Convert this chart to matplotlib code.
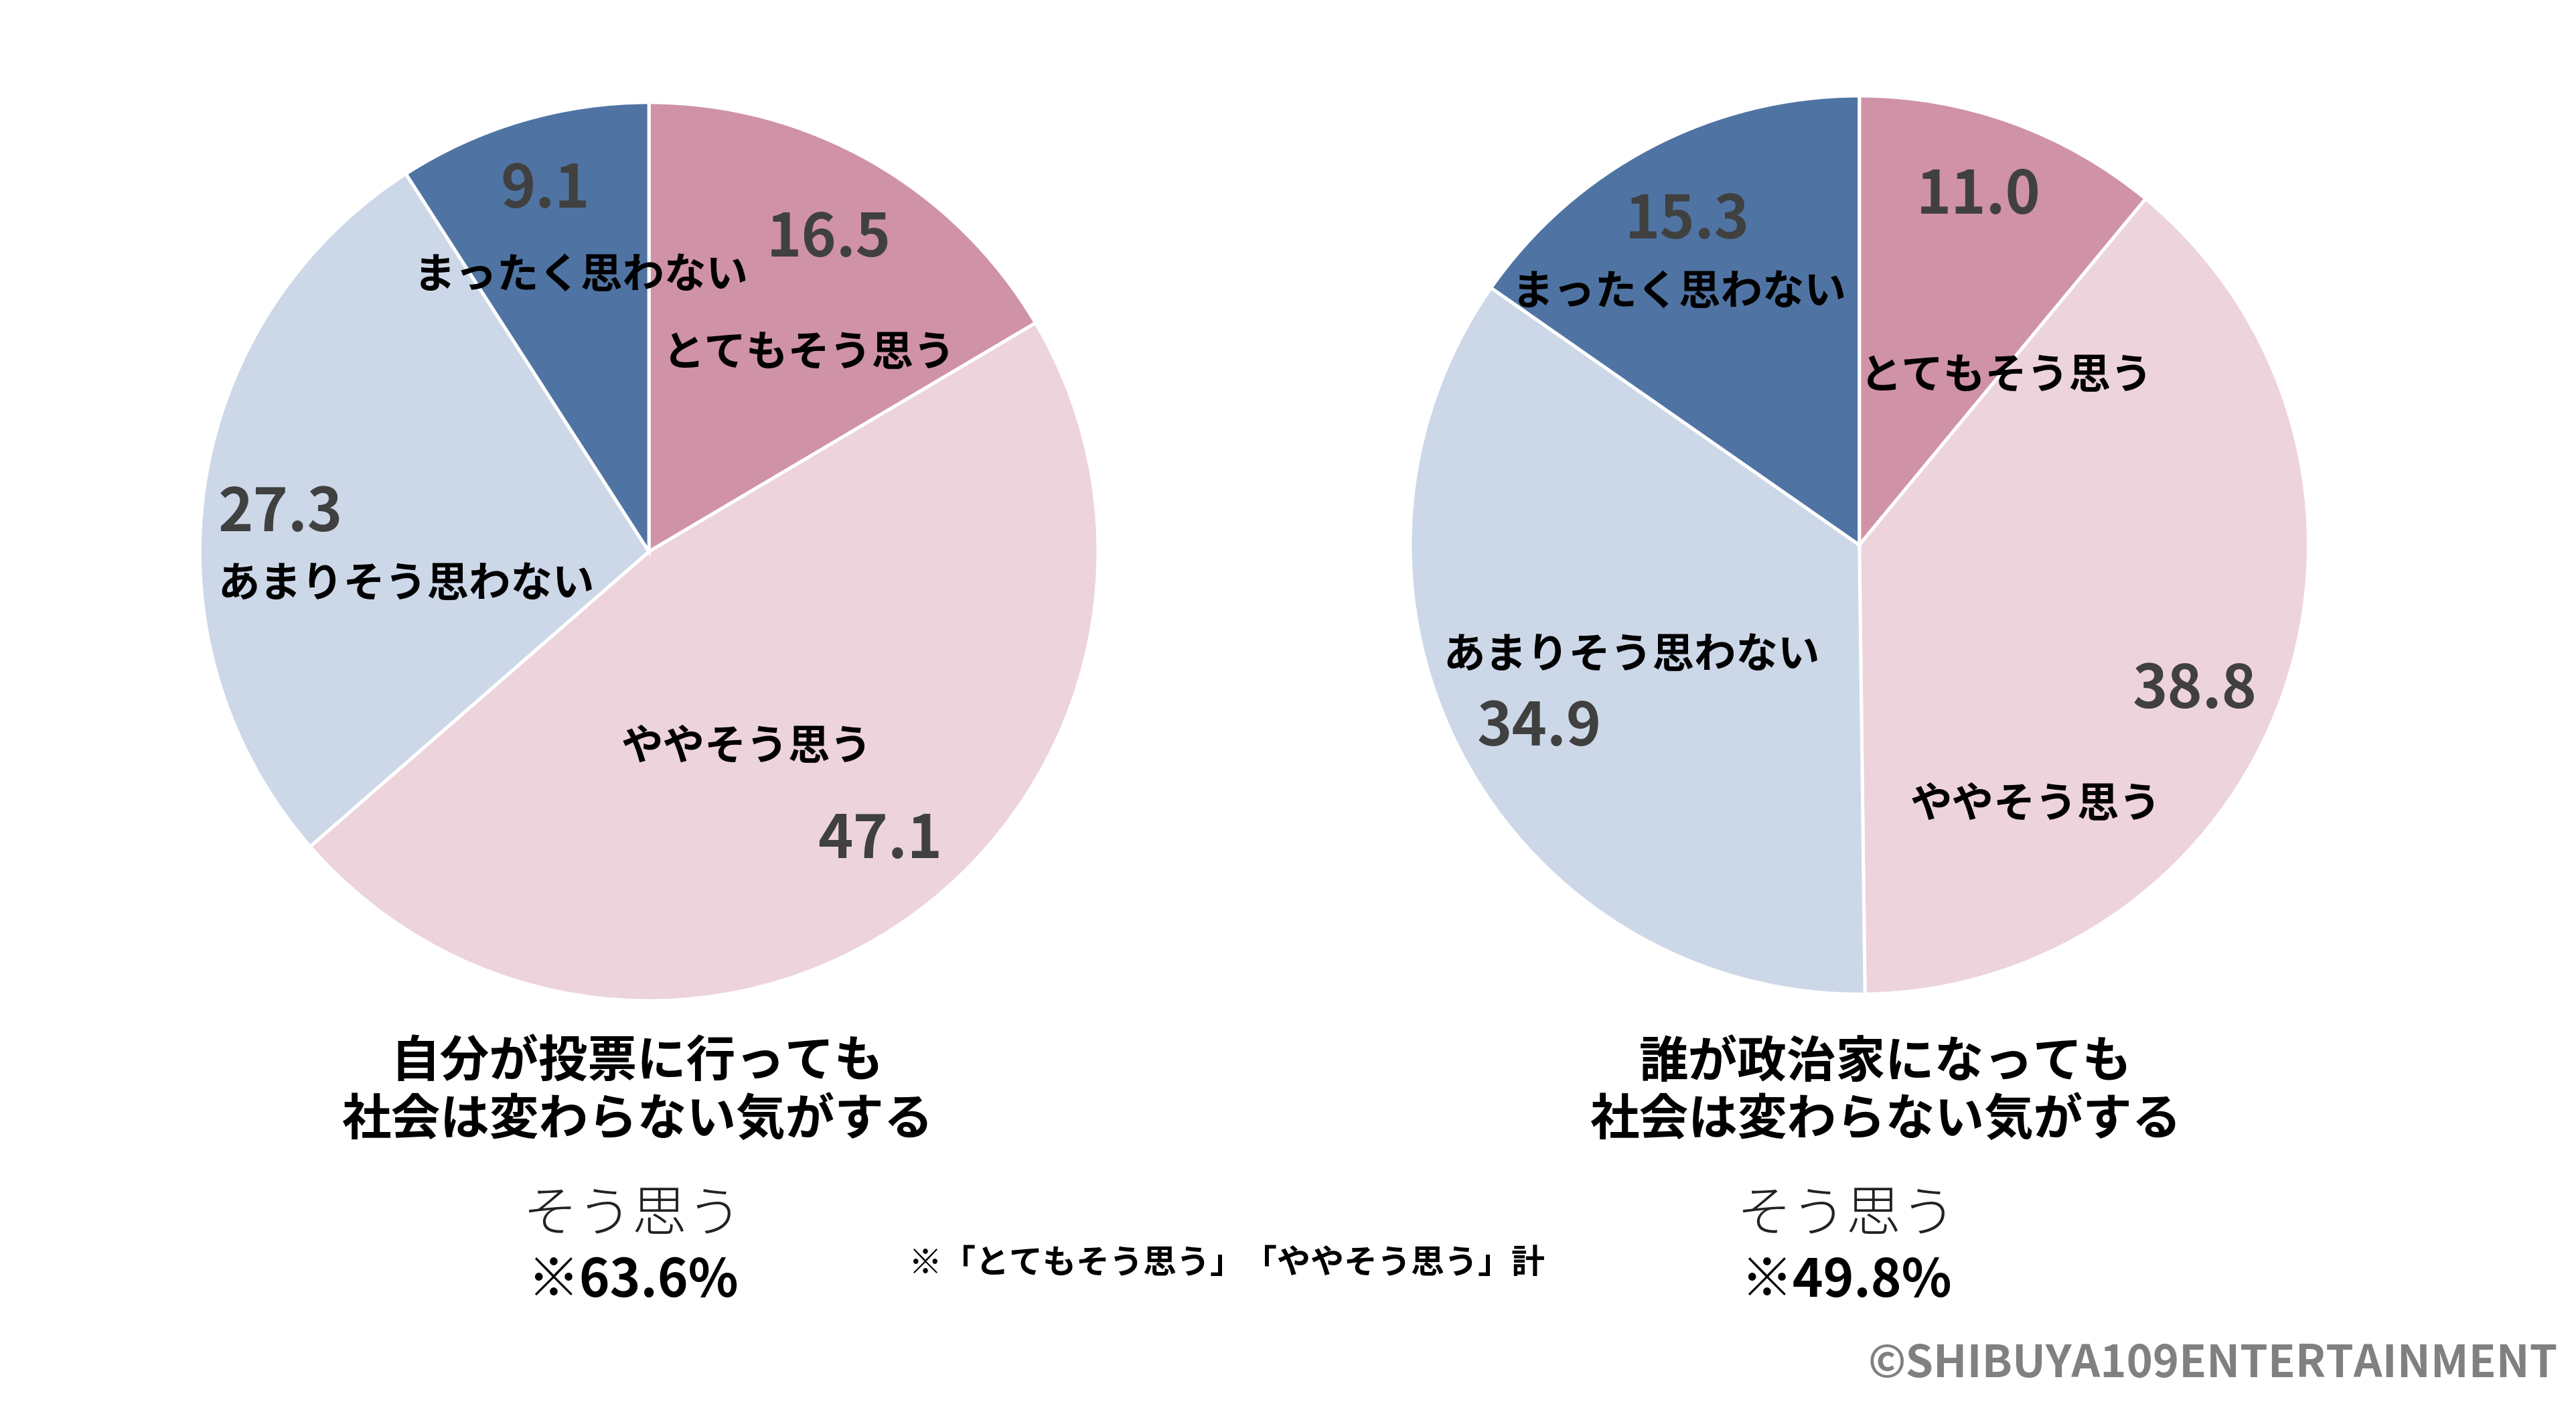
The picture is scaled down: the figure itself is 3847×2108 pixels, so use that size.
import matplotlib
matplotlib.use("Agg")
import matplotlib.pyplot as plt

plt.rcParams['font.family'] = ['Noto Sans CJK JP', 'DejaVu Sans']

# データ
categories = ['とてもそう思う', 'ややそう思う', 'あまりそう思わない', 'まったく思わない']
vote_values = [16.5, 47.1, 27.3, 9.1]
politician_values = [11.0, 38.8, 34.9, 15.3]
vote_title = '自分が投票に行っても\n社会は変わらない気がする'
politician_title = '誰が政治家になっても\n社会は変わらない気がする'
vote_total = '※63.6%'
politician_total = '※49.8%'
note = '※「とてもそう思う」「ややそう思う」計'
credit = '©SHIBUYA109ENTERTAINMENT'

colors = ['#D092A7', '#EDD3DC', '#CCD8E8', '#4F74A3']
num_color = '#404040'

W, H = 1560, 855   # 作業用座標 (表示ピクセル)

fig = plt.figure(figsize=(3847 / 200, 2108 / 200), dpi=200)
ax = fig.add_axes([0, 0, 1, 1])


def Y(y):
    return H - y


# ラベル位置 (数値, カテゴリ名)
vote_pos = [((502, 145), (490, 214)), ((533, 509), (452, 452)),
            ((170, 311), (246, 354)), ((330, 115), (352, 167))]
pol_pos = [((1198, 119), (1215, 228)), ((1329, 418), (1233, 487)),
           ((932, 441), (988, 397)), ((1022, 134), (1017, 177))]


def draw(values, center, pos, title, total, x_title, x_total):
    ax.pie(values, colors=colors, startangle=90, counterclock=False,
           center=(center[0], Y(center[1])), radius=272,
           wedgeprops=dict(edgecolor='white', linewidth=1.8), frame=True)
    for v, cat, (pn, pc) in zip(values, categories, pos):
        ax.text(pn[0], Y(pn[1]), f'{v:.1f}', ha='center', va='center',
                fontsize=32, fontweight='bold', color=num_color)
        ax.text(pc[0], Y(pc[1]), cat, ha='center', va='center',
                fontsize=22.5, fontweight='bold', color='black')
    ax.text(x_title, Y(661), title, ha='center', va='center', fontsize=26.5,
            fontweight='bold', color='black', linespacing=1.2)
    ax.text(x_total, Y(736), 'そう思う', ha='center', va='center',
            fontsize=29.5, fontweight='light', color='#222222')
    ax.text(x_total, Y(776), total, ha='center', va='center',
            fontsize=28, fontweight='bold', color='black')


draw(vote_values, (393, 334), vote_pos, vote_title, vote_total, 386, 383)
draw(politician_values, (1126, 330), pol_pos, politician_title, politician_total, 1142, 1118)

ax.set_xlim(0, W)
ax.set_ylim(0, H)
ax.set_aspect('auto')
ax.axis('off')

ax.text(743, Y(765), note, ha='center', va='center', fontsize=18,
        fontweight='bold', color='black')
ax.text(1549, Y(826), credit, ha='right', va='center', fontsize=24,
        fontweight='bold', color='#808080')

fig.savefig('out.png', dpi=200, facecolor='white')
